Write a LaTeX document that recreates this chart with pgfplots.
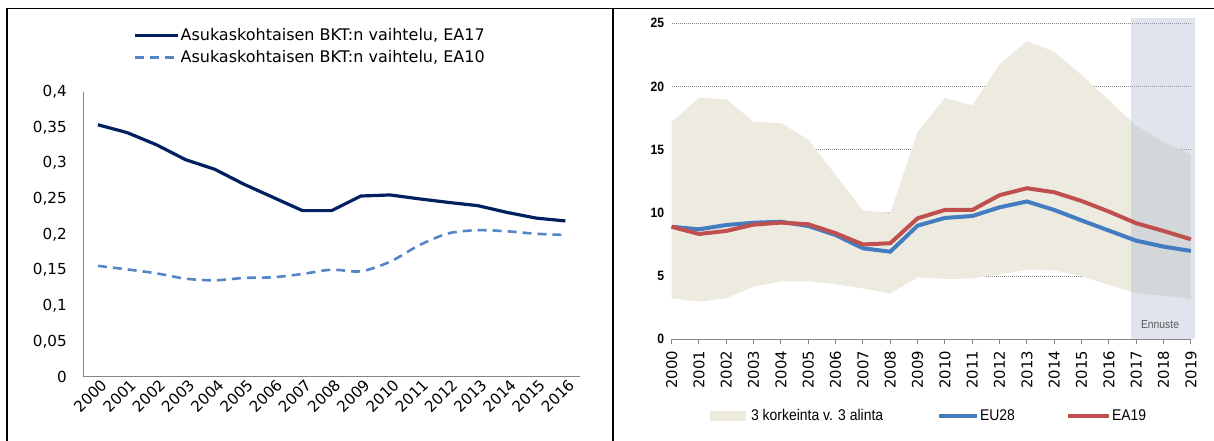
\documentclass[border=0pt]{standalone}
\usepackage{pgfplots}
\pgfplotsset{compat=1.18}
\usepackage{fontspec}
\setmainfont{DejaVu Sans}
\newfontfamily\condfont[FakeStretch=0.9]{Liberation Sans}
\newcommand\lfont{\fontsize{15.2bp}{18bp}\selectfont}
\newcommand\llfont{\fontsize{16bp}{18.5bp}\selectfont}
\newcommand\rxfont{\fontsize{14.8bp}{17bp}\selectfont}
\newcommand\ryfont{\condfont\bfseries\fontsize{13.5bp}{15bp}\selectfont}
\newcommand\rlfont{\condfont\fontsize{15.5bp}{17bp}\selectfont}
\definecolor{navy}{RGB}{0,32,96}
\definecolor{lblue}{RGB}{83,133,200}
\definecolor{axgray}{RGB}{134,134,134}
\definecolor{beige}{RGB}{237,235,224}
\definecolor{bandc}{RGB}{164,178,204}
\definecolor{eublue}{RGB}{68,124,193}
\definecolor{eared}{RGB}{192,80,77}
\definecolor{gridc}{RGB}{140,140,140}

\pgfplotstableread{
x ea17 ea10
0 0.354 0.156
1 0.343 0.151
2 0.326 0.1455
3 0.305 0.138
4 0.2915 0.1357
5 0.2705 0.139
6 0.252 0.140
7 0.2335 0.1446
8 0.2335 0.1506
9 0.254 0.1483
10 0.2555 0.1618
11 0.250 0.185
12 0.245 0.2016
13 0.2405 0.206
14 0.231 0.2045
15 0.223 0.201
16 0.219 0.1993
}\lefttab

\pgfplotstableread{
x eu ea
0 8.90 8.90
1 8.70 8.33
2 9.04 8.57
3 9.22 9.07
4 9.30 9.23
5 8.96 9.10
6 8.25 8.39
7 7.20 7.50
8 6.93 7.60
9 8.99 9.57
10 9.60 10.23
11 9.75 10.23
12 10.44 11.40
13 10.90 11.95
14 10.23 11.63
15 9.40 10.94
16 8.60 10.10
17 7.80 9.18
18 7.33 8.57
19 6.99 7.91
}\righttab

\begin{document}
\begin{tikzpicture}[x=1bp,y=1bp]
\path[use as bounding box] (0,0) rectangle (1214,441);
\draw[line width=1.6bp] (7,432.5) -- (1214,432.5);
\draw[line width=2bp] (7,433.3) -- (7,0);
\draw[line width=2bp] (613,433.3) -- (613,0);

\begin{axis}[
  at={(83.3bp,64bp)}, anchor=south west, scale only axis,
  width=496.7bp, height=285bp,
  xmin=-0.5, xmax=16.5, ymin=0, ymax=0.4,
  axis lines*=left,
  axis line style={draw=axgray, line width=1bp},
  xtick={0,...,16},
  xticklabels={2000,2001,2002,2003,2004,2005,2006,2007,2008,2009,2010,2011,2012,2013,2014,2015,2016},
  ytick={0,0.05,0.1,0.15,0.2,0.25,0.3,0.35,0.4},
  yticklabels={0,{0,05},{0,1},{0,15},{0,2},{0,25},{0,3},{0,35},{0,4}},
  major tick length=0,
  tick label style={font=\lfont},
  yticklabel style={xshift=-13bp},
  xticklabel style={rotate=45, anchor=east, xshift=4bp, yshift=-8bp},
  legend style={draw=none, fill=none, at={(0.094,1.235)}, anchor=north west,
    font=\llfont, row sep=6bp, nodes={inner sep=1.2bp}},
  legend cell align=left,
  legend image code/.code={\draw[#1] (0bp,0bp) -- (43bp,0bp);},
]
\addplot[navy, line width=3.2bp] table[x=x, y=ea17] {\lefttab};
\addlegendentry{Asukaskohtaisen BKT:n vaihtelu, EA17}
\addplot[lblue, line width=2.6bp, dash pattern=on 9bp off 6bp, smooth] table[x=x, y=ea10] {\lefttab};
\addlegendentry{Asukaskohtaisen BKT:n vaihtelu, EA10}
\end{axis}

\begin{axis}[
  at={(671.6bp,101.7bp)}, anchor=south west, scale only axis,
  width=519.3bp, height=321.1bp,
  xmin=0, xmax=19, ymin=0, ymax=25.4,
  clip=false,
  axis x line*=bottom, axis y line*=left,
  x axis line style={draw=axgray, line width=1.2bp},
  y axis line style={draw=none},
  xtick={0,...,19},
  xticklabels={2000,2001,2002,2003,2004,2005,2006,2007,2008,2009,2010,2011,2012,2013,2014,2015,2016,2017,2018,2019},
  ytick={0,5,10,15,20,25},
  yticklabels={0,5,10,15,20,25},
  ymajorgrids,
  major grid style={draw=gridc, line width=0.8bp, dash pattern=on 1bp off 1bp},
  tick align=outside,
  major tick length=5bp,
  xtick style={draw=axgray, line width=1bp},
  ytick style={draw=none},
  xticklabel style={yshift=-3bp, rotate=90, anchor=east, font=\rxfont},
  yticklabel style={font=\ryfont, xshift=1bp},
  legend style={draw=none, fill=none, at={(0.068,-0.239)}, anchor=west,
    font=\rlfont, legend columns=-1, nodes={inner sep=0bp}},
]
\addplot[fill=beige, draw=none, area legend,
  legend image code/.code={\fill[beige] (0bp,-5bp) rectangle (36bp,5bp); \path (41bp,0bp);}]
  coordinates {(0,17.2) (1,19.1) (2,19.0) (3,17.2) (4,17.1) (5,15.8) (6,13.0) (7,10.2) (8,10.0) (9,16.4)
   (10,19.1) (11,18.5) (12,21.75) (13,23.6) (14,22.75) (15,20.9) (16,18.9) (17,16.9) (18,15.6) (19,14.6)
   (19,3.19) (18,3.45) (17,3.64) (16,4.30) (15,5.00) (14,5.44) (13,5.48) (12,5.14) (11,4.80) (10,4.77)
   (9,4.90) (8,3.61) (7,4.03) (6,4.35) (5,4.59) (4,4.59) (3,4.16) (2,3.24) (1,2.97) (0,3.24)} -- cycle;
\addlegendentry{\makebox[186bp][l]{3 korkeinta v. 3 alinta}}
\addplot[fill=bandc, fill opacity=0.35, draw=none, forget plot]
  coordinates {(16.8,0) (16.8,25.4) (19.15,25.4) (19.15,0)} -- cycle;
\addplot[eublue, line width=4bp,
  legend image code/.code={\draw[eublue, line width=4bp] (0bp,0bp) -- (38bp,0bp); \path (39bp,0bp);}]
  table[x=x, y=eu] {\righttab};
\addlegendentry{\makebox[86bp][l]{EU28}}
\addplot[eared, line width=4bp,
  legend image code/.code={\draw[eared, line width=4bp] (0bp,0bp) -- (41bp,0bp); \path (42bp,0bp);}]
  table[x=x, y=ea] {\righttab};
\addlegendentry{EA19}
\node[font=\condfont\fontsize{11.5bp}{13bp}\selectfont, text=black!65] at (axis cs:17.87,1.13) {Ennuste};
\end{axis}
\end{tikzpicture}
\end{document}
